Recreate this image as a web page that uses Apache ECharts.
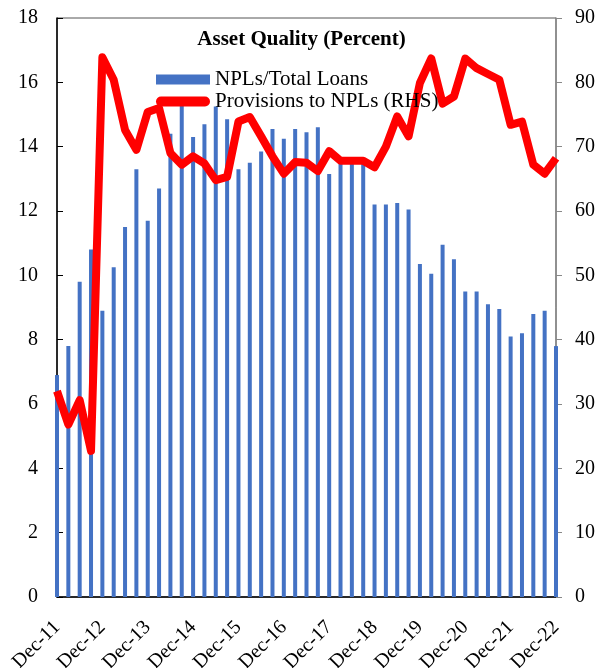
<!DOCTYPE html>
<html lang="en">
<head>
	<meta charset="UTF-8">
	<title>Asset Quality</title>
	<script src="https://cdn.jsdelivr.net/npm/echarts@6/dist/echarts.min.js"></script>
	<style>
		html,body{margin:0;padding:0;background:#fff;}
		#box{width:603px;height:668px;}
	</style>
</head>
<body>
<div id="box"></div>
<script>
	let quarters=[
		'Dec-11','Mar-12','Jun-12','Sep-12','Dec-12','Mar-13','Jun-13','Sep-13',
		'Dec-13','Mar-14','Jun-14','Sep-14','Dec-14','Mar-15','Jun-15','Sep-15',
		'Dec-15','Mar-16','Jun-16','Sep-16','Dec-16','Mar-17','Jun-17','Sep-17',
		'Dec-17','Mar-18','Jun-18','Sep-18','Dec-18','Mar-19','Jun-19','Sep-19',
		'Dec-19','Mar-20','Jun-20','Sep-20','Dec-20','Mar-21','Jun-21','Sep-21',
		'Dec-21','Mar-22','Jun-22','Sep-22','Dec-22'
	];
	// NPLs / total loans, left axis
	let npls=[
		6.9,7.8,9.8,10.8,8.9,10.25,11.5,13.3,
		11.7,12.7,14.4,15.3,14.3,14.7,15.25,14.85,
		13.3,13.5,13.85,14.55,14.25,14.55,14.45,14.6,
		13.15,13.6,13.6,13.5,12.2,12.2,12.25,12.05,
		10.35,10.05,10.95,10.5,9.5,9.5,9.1,8.95,
		8.1,8.2,8.8,8.9,7.8
	];
	// provisions to NPLs, right axis
	let provisions=[
		32,26.8,30.6,22.7,83.9,80.4,72.6,69.5,
		75.4,76,69,67.2,68.5,67.4,64.8,65.3,
		73.9,74.6,71.6,68.5,65.8,67.6,67.5,66.2,
		69.3,67.8,67.8,67.8,66.8,70,74.7,71.6,
		79.9,83.7,76.7,77.8,83.7,82.2,81.3,80.4,
		73.4,73.9,67.2,65.8,68.2
	];
	let leftTicks=[0,18,2];
	let rightTicks=[0,90,10];

	let serif='Liberation Serif';
	let chart=echarts.init(document.getElementById('box'));
	chart.setOption({
		animation:false,
		textStyle:{fontFamily:serif},
		title:{
			text:'Asset Quality (Percent)',
			left:'center',
			top:24,
			textStyle:{fontFamily:serif,fontSize:21,fontWeight:'bold',color:'#000'}
		},
		legend:{
			orient:'vertical',
			left:151,
			top:64,
			itemGap:1,
			itemWidth:54,
			itemHeight:10,
			textStyle:{fontFamily:serif,fontSize:21,color:'#000'},
			data:[
				{name:'NPLs/Total Loans',icon:'rect'},
				{
					name:'Provisions to NPLs (RHS)',
					icon:'path://M5,0 H49 A5,5 0 0 1 49,10 H5 A5,5 0 0 1 5,0 Z',
					itemStyle:{color:'#FF0000',borderWidth:0},
					lineStyle:{width:0}
				}
			]
		},
		grid:{
			left:57,right:47,top:18,bottom:71,
			outerBoundsMode:'none',
			show:true,borderColor:'#555',borderWidth:1
		},
		xAxis:{
			type:'category',
			data:quarters,
			boundaryGap:false,
			axisLine:{lineStyle:{color:'#000',width:1.5}},
			axisTick:{show:false},
			axisLabel:{
				interval:3,
				rotate:45,
				align:'right',
				verticalAlign:'top',
				padding:[0,10,0,0],
				margin:13,
				fontFamily:serif,
				fontSize:20,
				color:'#000'
			}
		},
		yAxis:[
			{
				type:'value',
				min:leftTicks[0],max:leftTicks[1],interval:leftTicks[2],
				splitLine:{show:false},
				axisLine:{show:true,lineStyle:{color:'#000',width:1.5}},
				axisTick:{show:true,inside:true,length:6,lineStyle:{color:'#000'}},
				axisLabel:{fontFamily:serif,fontSize:20,color:'#000',margin:19}
			},
			{
				type:'value',
				position:'right',
				min:rightTicks[0],max:rightTicks[1],interval:rightTicks[2],
				splitLine:{show:false},
				axisLine:{show:true,lineStyle:{color:'#888',width:1.5}},
				axisTick:{show:true,length:6,lineStyle:{color:'#888'}},
				axisLabel:{fontFamily:serif,fontSize:20,color:'#000',margin:19}
			}
		],
		series:[
			{
				name:'NPLs/Total Loans',
				type:'bar',
				yAxisIndex:0,
				barWidth:4,
				itemStyle:{color:'#4472C4'},
				data:npls
			},
			{
				name:'Provisions to NPLs (RHS)',
				type:'line',
				yAxisIndex:1,
				symbol:'none',
				lineStyle:{color:'#FF0000',width:8,join:'round'},
				itemStyle:{color:'#FF0000'},
				data:provisions
			}
		]
	});
</script>
</body>
</html>
